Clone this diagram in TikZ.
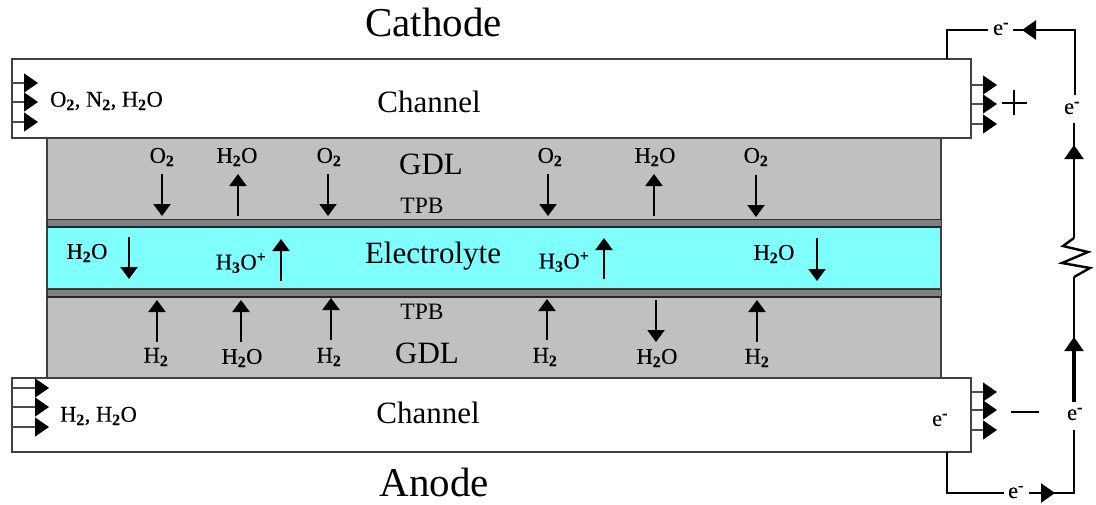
\documentclass[tikz,border=0pt]{standalone}
\usepackage{fontspec}
\setmainfont{Liberation Serif}
\newfontfamily\smfont[FakeBold=0.2]{Liberation Serif}
\usetikzlibrary{arrows.meta}
\definecolor{gdl}{HTML}{C0C0C0}
\definecolor{tpb}{HTML}{808080}
\definecolor{elec}{HTML}{80FFFF}
\newcommand{\lsb}[1]{\textsubscript{\textbf{#1}}}
\newcommand{\lsp}[1]{\textsuperscript{\textbf{#1}}}
\tikzset{
  x=1pt,y=-1pt,
  layerbox/.style={draw=black!75,line width=1.2pt},
  flow/.style={line width=2.3pt,-{Triangle[length=12pt,width=17pt]}},
  inout/.style={draw=black!70,line width=1.1pt,-{Triangle[length=14pt,width=19pt,color=black]}},
  wire/.style={line width=2.4pt},
  wirearrow/.style={line width=2.4pt,-{Triangle[length=14pt,width=19pt]}},
  big/.style={inner sep=0pt,font=\fontsize{41}{41}\selectfont},
  mid/.style={inner sep=0pt,font=\fontsize{31}{31}\selectfont},
  tpbl/.style={inner sep=0pt,font=\fontsize{23.5}{23.5}\selectfont},
  small/.style={inner sep=0pt,font=\smfont\fontsize{22.5}{22.5}\selectfont},
}
\newcommand{\flowarrow}[4]{\coordinate (#1s) at (#2,#3);\coordinate (#1e) at (#2,#4);\draw[flow] (#1s) -- (#1e);}
\newcommand{\port}[4]{\coordinate (#1s) at (#2,#4);\coordinate (#1e) at (#3,#4);\draw[inout] (#1s) -- (#1e);}
\begin{document}
\begin{tikzpicture}
\useasboundingbox (0,0) rectangle (1096,504);
\fill[white] (0,0) rectangle (1096,504);
% layers
\draw[layerbox,fill=gdl] (47,138) rectangle (941,378);
\draw[layerbox,fill=elec] (47,227) rectangle (941,289);
\draw[draw=black!80,line width=0.8pt,fill=tpb] (47,219) rectangle (941,226);
\draw[draw=black!80,line width=0.8pt,fill=tpb] (47,289) rectangle (941,296);
\coordinate (s1l) at (47,226.5);\coordinate (s1r) at (941,226.5);
\coordinate (s2l) at (47,297);\coordinate (s2r) at (941,297);
\draw[line width=2pt,black!85] (s1l) -- (s1r);
\draw[line width=2pt,black!85] (s2l) -- (s2r);
\draw[layerbox,fill=white] (12,59) rectangle (971,138);
\draw[layerbox,fill=white] (12,378) rectangle (971,452);
% port arrows
\port{a1}{12}{38}{83}\port{a2}{12}{38}{102}\port{a3}{12}{38}{122}
\port{b1}{971}{997}{85}\port{b2}{971}{997}{104}\port{b3}{971}{997}{124}
\port{c1}{12}{49}{388}\port{c2}{12}{49}{407}\port{c3}{12}{49}{427}
\port{d1}{971}{997}{392}\port{d2}{971}{997}{410}\port{d3}{971}{997}{430}
% titles
\node[big] (cathode) at (433.5,22) {Cathode};
\node[big] (anode) at (434.5,482) {Anode};
\node[mid] (chtop) at (429,102) {Channel};
\node[mid] (chbot) at (428,413) {Channel};
\node[mid] (gdltop) at (431,164) {GDL};
\node[mid] (gdlbot) at (427,353) {GDL};
\node[mid] (elyte) at (433,256) {Electrolyte};
\node[tpbl] (tpbtop) at (422,206) {TPB};
\node[tpbl] (tpbbot) at (422,312) {TPB};
% species
\node[small] (gas1) at (106.5,101) {O\lsb{2}, N\lsb{2}, H\lsb{2}O};
\node[small] (gas2) at (98.5,416) {H\lsb{2}, H\lsb{2}O};
\node[small] (t1) at (162,157) {O\lsb{2}};
\node[small] (t2) at (237,157) {H\lsb{2}O};
\node[small] (t3) at (329,157) {O\lsb{2}};
\node[small] (t4) at (550,157) {O\lsb{2}};
\node[small] (t5) at (655,157) {H\lsb{2}O};
\node[small] (t6) at (756,157) {O\lsb{2}};
\node[small] (m1) at (87,253) {H\lsb{2}O};
\node[small] (m2) at (241,263) {H\lsb{3}O\lsp{+}};
\node[small] (m3) at (564,262) {H\lsb{3}O\lsp{+}};
\node[small] (m4) at (774,254) {H\lsb{2}O};
\node[small] (u1) at (156,357) {H\lsb{2}};
\node[small] (u2) at (242,358) {H\lsb{2}O};
\node[small] (u3) at (329,357) {H\lsb{2}};
\node[small] (u4) at (545,357) {H\lsb{2}};
\node[small] (u5) at (657,358) {H\lsb{2}O};
\node[small] (u6) at (757,358) {H\lsb{2}};
% flow arrows
\flowarrow{ft1}{162}{174}{216}
\flowarrow{ft2}{238}{216}{174}
\flowarrow{ft3}{328}{174}{216}
\flowarrow{ft4}{548}{174}{216}
\flowarrow{ft5}{654}{216}{174}
\flowarrow{ft6}{756}{175}{217}
\flowarrow{fm1}{129}{237}{279}
\flowarrow{fm2}{281}{281}{239}
\flowarrow{fm3}{604}{279}{238}
\flowarrow{fm4}{817}{238}{281}
\flowarrow{fu1}{157}{342}{300}
\flowarrow{fu2}{241}{342}{300}
\flowarrow{fu3}{331}{340}{298}
\flowarrow{fu4}{547}{340}{299}
\flowarrow{fu5}{656}{300}{342}
\flowarrow{fu6}{757}{342}{300}
% plus / minus
\coordinate (pl) at (1002,103);\coordinate (pr) at (1027,103);
\coordinate (pu) at (1014,90);\coordinate (pd) at (1014,115);
\draw[line width=2pt] (pl) -- (pr);\draw[line width=2pt] (pu) -- (pd);
\coordinate (ml) at (1011,412);\coordinate (mr) at (1039,412);
\draw[line width=2.4pt] (ml) -- (mr);
% electrons
\node[small] (e1) at (1001,29) {e\lsp{-}};
\node[small] (e2) at (1072,108) {e\lsp{-}};
\node[small] (e3) at (1075,414) {e\lsp{-}};
\node[small,anchor=base] (e4) at (1016,498) {e\lsp{-}};
\node[small] (e5) at (940,420) {e\lsp{-}};
% circuit
\coordinate (w1) at (947,59);\coordinate (w2) at (947,30);\coordinate (w3) at (988,30);
\draw[wire] (w1) -- (w2) -- (w3);
\coordinate (w4) at (1013,30);\coordinate (w6) at (1075,30);\coordinate (w7) at (1075,95);
\draw[wire] (w4) -- (w6) -- (w7);
\coordinate (w4a) at (1035,30);\coordinate (w4b) at (1022,30);\draw[wirearrow] (w4a) -- (w4b);
\coordinate (w8) at (1074,123);\coordinate (w9) at (1074,238);
\coordinate (w8a) at (1074,157);\coordinate (w8b) at (1074,145);
\draw[wire] (w8) -- (w9);\draw[wirearrow] (w8a) -- (w8b);
% resistor
\coordinate (r1) at (1063,246);\coordinate (r2) at (1088,252);\coordinate (r3) at (1062,263);\coordinate (r4) at (1090,268);
\coordinate (w10) at (1074,277);
\draw[wire,line join=miter] (w9) -- (r1) -- (r2) -- (r3) -- (r4) -- (w10);
\coordinate (w11) at (1074,402);
\draw[wire] (w10) -- (w11);
\coordinate (w11a) at (1074,349);\coordinate (w11b) at (1074,337);
\draw[line width=3.6pt] (w11) -- (w11a);
\draw[wirearrow] (w11a) -- (w11b);
\coordinate (w12) at (1074,430);\coordinate (w13) at (1074,493);\coordinate (w14) at (1029,493);
\draw[wire] (w12) -- (w13) -- (w14);
\coordinate (w14a) at (1043,493);\coordinate (w14b) at (1055,493);
\draw[wirearrow] (w14a) -- (w14b);
\coordinate (w15) at (1004,493);\coordinate (w16) at (947,493);\coordinate (w17) at (947,452);
\draw[wire] (w15) -- (w16) -- (w17);
\end{tikzpicture}
\end{document}
